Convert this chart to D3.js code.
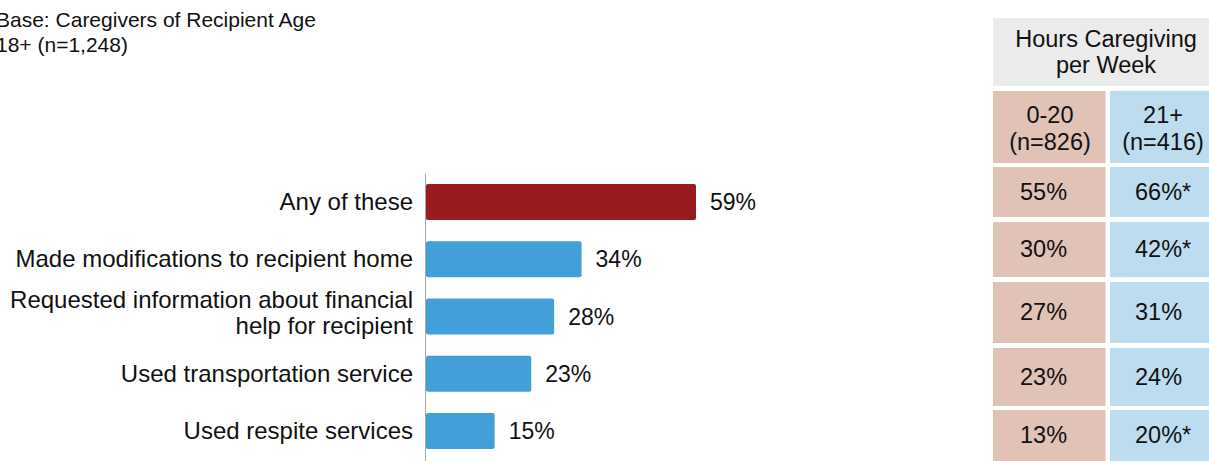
<!DOCTYPE html>
<html>
<head>
<meta charset="utf-8">
<script src="https://cdn.jsdelivr.net/npm/d3@7"></script>
<style>
  body { margin: 0; background: #fff; }
  svg { display: block; font-family: "Liberation Sans", Arial, sans-serif; }
</style>
</head>
<body>
<div id="chart"></div>
<script>
// data
const categories = [
  ["Any of these"],
  ["Made modifications to recipient home"],
  ["Requested information about financial", "help for recipient"],
  ["Used transportation service"],
  ["Used respite services"]
];
const totals = [59, 34, 28, 23, 15];
const hours0to20 = ["55%", "30%", "27%", "23%", "13%"];
const hours21plus = ["66%*", "42%*", "31%", "24%", "20%*"];
const tableTitle = ["Hours Caregiving", "per Week"];
const groupHeads = [["0-20", "(n=826)"], ["21+", "(n=416)"]];
const baseNote = ["Base: Caregivers of Recipient Age", "18+ (n=1,248)"];

const W = 1209, H = 461;
const svg = d3.select("#chart").append("svg")
  .attr("width", W).attr("height", H);

// base note
svg.append("text")
  .style("font-size", "21px").attr("fill", "#111")
  .selectAll("tspan").data(baseNote).enter().append("tspan")
  .attr("x", -4).attr("y", (d, i) => 27 + i * 25)
  .text(d => d);

// bars
const x = d3.scaleLinear().domain([0, 59]).range([426, 696]);
const y = d3.scaleBand().domain(d3.range(categories.length))
  .range([173.5, 459.5]).paddingInner(0.37).paddingOuter(0.185);

svg.selectAll(".bar")
  .data(totals)
  .enter().append("rect")
  .attr("class", "bar")
  .attr("x", x(0))
  .attr("y", (d, i) => y(i))
  .attr("width", d => x(d) - x(0))
  .attr("height", y.bandwidth())
  .attr("rx", 2)
  .attr("fill", (d, i) => i === 0 ? "#981b20" : "#439fd8");

// axis line
svg.append("line")
  .attr("x1", 425.5).attr("x2", 425.5)
  .attr("y1", 174).attr("y2", H)
  .attr("stroke", "#a8a8a8").attr("stroke-width", 1);

// value labels
svg.selectAll(".val")
  .data(totals)
  .enter().append("text")
  .attr("class", "val")
  .attr("x", d => x(d) + 14)
  .attr("y", (d, i) => y(i) + y.bandwidth() / 2)
  .attr("dy", "0.35em")
  .style("font-size", "23px").attr("fill", "#111")
  .text(d => d + "%");

// category labels
const labels = svg.selectAll(".cat")
  .data(categories)
  .enter().append("text")
  .attr("class", "cat")
  .attr("text-anchor", "end")
  .style("font-size", "24px").attr("fill", "#111");
labels.each(function(lines, i) {
  const cy = y(i) + y.bandwidth() / 2 - (lines.length > 1 ? 3 : 0);
  const lh = 26;
  const start = cy - (lines.length - 1) * lh / 2;
  d3.select(this).selectAll("tspan").data(lines).enter().append("tspan")
    .attr("x", 413)
    .attr("y", (d, j) => start + j * lh)
    .attr("dy", "0.33em")
    .text(d => d);
});

// table
const colX = [993, 1110], colW = [112.5, 108];
const textX = [1020, 1135];
const rowTop = [167, 222, 282, 348, 410];
const rowBot = [217, 277, 343, 406, 470];
const colFill = ["#e0c2b7", "#bddcf0"];

svg.append("rect")
  .attr("x", 993).attr("y", 18).attr("width", 230).attr("height", 68)
  .attr("fill", "#ebebeb");
svg.append("text")
  .attr("text-anchor", "middle").style("font-size", "23.5px").attr("fill", "#111")
  .selectAll("tspan").data(tableTitle).enter().append("tspan")
  .attr("x", 1106).attr("y", (d, i) => 47 + i * 26)
  .text(d => d);

groupHeads.forEach((lines, c) => {
  svg.append("rect")
    .attr("x", colX[c]).attr("y", 91).attr("width", colW[c]).attr("height", 72)
    .attr("fill", colFill[c]);
  svg.append("text")
    .attr("text-anchor", "middle").style("font-size", "23.5px").attr("fill", "#111")
    .selectAll("tspan").data(lines).enter().append("tspan")
    .attr("x", c ? 1163 : 1050).attr("y", (d, i) => 123 + i * 27)
    .text(d => d);
});

[hours0to20, hours21plus].forEach((vals, c) => {
  const g = svg.append("g");
  g.selectAll("rect").data(vals).enter().append("rect")
    .attr("x", colX[c]).attr("y", (d, i) => rowTop[i])
    .attr("width", colW[c]).attr("height", (d, i) => rowBot[i] - rowTop[i])
    .attr("fill", colFill[c]);
  g.selectAll("text").data(vals).enter().append("text")
    .attr("x", textX[c])
    .attr("y", (d, i) => (rowTop[i] + Math.min(rowBot[i], 461)) / 2)
    .attr("dy", "0.33em")
    .style("font-size", "23.5px").attr("fill", "#111")
    .text(d => d);
});
</script>
</body>
</html>
